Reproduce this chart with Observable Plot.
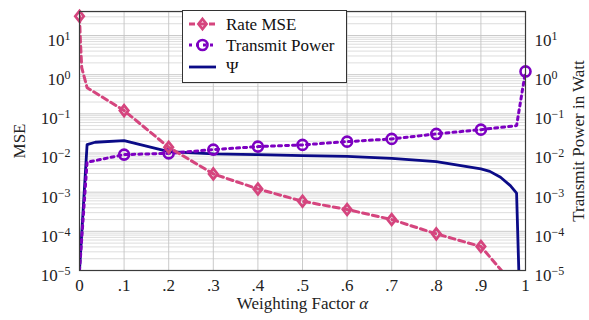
<!DOCTYPE html>
<html><head><meta charset="utf-8">
<script src="https://cdn.jsdelivr.net/npm/d3@7"></script>
<script src="https://cdn.jsdelivr.net/npm/@observablehq/plot@0.6"></script>
<style>
body{margin:0;background:#fff}
#wrap{position:relative;width:589px;height:320px;font-family:"Liberation Serif",serif}
svg text{font-family:"Liberation Serif",serif}
</style></head><body><div id="wrap"></div>
<script>
// ---- data ----
const rateAlpha = [0, 0.002, 0.005, 0.017, 0.1, 0.2, 0.3, 0.4, 0.5, 0.6, 0.7, 0.8, 0.9, 0.95];
const rateMSE   = [31, 7.4, 1.51, 0.466, 0.121, 0.014, 0.00293, 0.00121, 0.000586, 0.00036, 0.0002, 0.0000863, 0.000041, 0.0000089];

const powerAlpha = [0, 0.017, 0.1, 0.2, 0.3, 0.4, 0.5, 0.6, 0.7, 0.8, 0.9, 0.98, 1.0];
const power      = [1e-5, 0.0058, 0.0091, 0.0098, 0.0122, 0.01455, 0.0161, 0.0195, 0.0229, 0.0307, 0.0395, 0.05, 1.21];

const psiAlpha = [0, 0.017, 0.035, 0.1, 0.2, 0.3, 0.4, 0.5, 0.6, 0.7, 0.8, 0.9, 0.92, 0.944, 0.966, 0.98, 0.985];
const psi      = [1e-5, 0.0164, 0.0188, 0.0207, 0.01087, 0.0095, 0.0091, 0.0086, 0.0082, 0.00733, 0.006, 0.00393, 0.0034, 0.0024, 0.00147, 0.00094, 1e-5];

const xTicks = [0, 0.1, 0.2, 0.3, 0.4, 0.5, 0.6, 0.7, 0.8, 0.9, 1];
const xTickLabels = ["0", ".1", ".2", ".3", ".4", ".5", ".6", ".7", ".8", ".9", "1"];
const yExponents = [-5, -4, -3, -2, -1, 0, 1];

const seriesNames = ["Rate MSE", "Transmit Power", "\u03A8"];
const colors = {rate: "#d5457e", power: "#7d00c1", psi: "#0b0b87"};
const FONT = "Liberation Serif";

// ---- derived tables ----
const rateData = rateAlpha.map((a, i) => ({a, v: rateMSE[i]}));
const powerData = powerAlpha.map((a, i) => ({a, v: power[i]}));
const psiData = psiAlpha.map((a, i) => ({a, v: psi[i]}));
const onTenth = a => Math.abs(a * 10 - Math.round(a * 10)) < 1e-9;
const rateMarks = rateData.filter(d => onTenth(d.a) && d.a < 0.95);
const powerMarks = powerData.filter(d => onTenth(d.a) && d.a > 0);
const decades = yExponents.map(e => Math.pow(10, e));
const minor = [];
for (const e of yExponents) for (let k = 2; k <= 9; k++) { const v = k * Math.pow(10, e); if (v <= 41) minor.push(v); }

const diamond = {
  draw(ctx, size) {
    const r = Math.sqrt(size / Math.PI);
    const h = r * 1.2, w = r * 0.95;
    ctx.moveTo(0, -h); ctx.lineTo(w, 0); ctx.lineTo(0, h); ctx.lineTo(-w, 0); ctx.closePath();
  }
};

const chart = Plot.plot({
  width: 589, height: 320,
  marginLeft: 79, marginRight: 64, marginTop: 11, marginBottom: 50,
  style: {fontFamily: FONT, fontSize: "17px", background: "white", color: "#222"},
  x: {domain: [0, 1]},
  y: {type: "log", domain: [1e-5, 41]},
  marks: [
    Plot.gridY(minor, {stroke: "#d4d4d4", strokeOpacity: 1, strokeWidth: 0.8}),
    Plot.gridY(decades, {stroke: "#c4c4c4", strokeOpacity: 1, strokeWidth: 0.9}),
    Plot.gridX(xTicks.slice(1, -1), {stroke: "#c4c4c4", strokeOpacity: 1, strokeWidth: 0.9}),
    Plot.axisX(xTicks, {tickSize: 0, tickPadding: 8, fontSize: 17,
      tickFormat: d => xTickLabels[Math.round(d * 10)],
      label: "Weighting Factor \u03B1", labelAnchor: "center", labelArrow: "none", labelOffset: 38}),
    Plot.axisY(decades, {anchor: "left", tickSize: 0, tickPadding: 9, fontSize: 17, dy: 5,
      tickFormat: d => "10^" + Math.round(Math.log10(d)),
      label: "MSE", labelAnchor: "center", labelArrow: "none", labelOffset: 67}),
    Plot.axisY(decades, {anchor: "right", tickSize: 0, tickPadding: 9, fontSize: 17, dy: 5,
      tickFormat: d => "10^" + Math.round(Math.log10(d)),
      label: "Transmit Power in Watt", labelAnchor: "center", labelArrow: "none", labelOffset: 58}),
    Plot.line(psiData, {x: "a", y: "v", stroke: colors.psi, strokeWidth: 2.8, clip: true}),
    Plot.line(powerData, {x: "a", y: "v", stroke: colors.power, strokeWidth: 3, strokeDasharray: "3,4", clip: true}),
    Plot.dot(powerMarks, {x: "a", y: "v", r: 5, stroke: colors.power, strokeWidth: 2.6, fill: "none"}),
    Plot.line(rateData, {x: "a", y: "v", stroke: colors.rate, strokeWidth: 3, strokeDasharray: "6,4", clip: true}),
    Plot.dot(rateMarks, {x: "a", y: "v", r: 4.4, symbol: diamond, stroke: colors.rate, strokeWidth: 2.8, fill: "none"}),
    Plot.frame({stroke: "#3a3a3a", strokeWidth: 1.2})
  ]
});

const svg = d3.select(chart);
svg.selectAll('g[aria-label="y-axis tick label"] text').each(function () {
  const m = this.textContent.match(/^10\^(-?\d+)$/);
  if (m) {
    const s = d3.select(this);
    s.text("10");
    s.append("tspan").attr("dy", "-0.5em").attr("font-size", "12px").text(m[1].replace("-", "\u2212"));
  }
});
svg.selectAll('g[aria-label="x-axis label"] text').each(function () {
  const s = d3.select(this);
  s.text("Weighting Factor ");
  s.append("tspan").attr("font-style", "italic").text("\u03B1");
});
svg.selectAll("text").attr("font-family", FONT).attr("fill", "#222");

document.getElementById("wrap").appendChild(chart);

// ---- legend ----
const leg = d3.select("#wrap").append("svg")
  .style("position", "absolute").style("left", "182px").style("top", "10px")
  .attr("width", 166).attr("height", 74);
leg.append("rect").attr("x", 0.5).attr("y", 0.5).attr("width", 164).attr("height", 72)
  .attr("fill", "white").attr("stroke", "#333").attr("stroke-width", 1);
const rows = [
  {name: seriesNames[0], c: colors.rate, dash: "6,4", mark: "diamond", y: 14},
  {name: seriesNames[1], c: colors.power, dash: "3,4", mark: "circle", y: 35},
  {name: seriesNames[2], c: colors.psi, dash: null, mark: null, y: 57}
];
for (const r of rows) {
  const l = leg.append("line").attr("x1", 7).attr("x2", 34).attr("y1", r.y).attr("y2", r.y)
    .attr("stroke", r.c).attr("stroke-width", r.mark === "circle" ? 3 : 2.8);
  if (r.dash) l.attr("stroke-dasharray", r.dash);
  if (r.mark === "diamond") {
    leg.append("path").attr("d", `M20.5,${r.y - 5}L24.5,${r.y}L20.5,${r.y + 5}L16.5,${r.y}Z`)
      .attr("fill", "none").attr("stroke", r.c).attr("stroke-width", 2.8);
  } else if (r.mark === "circle") {
    leg.append("circle").attr("cx", 20.5).attr("cy", r.y).attr("r", 5)
      .attr("fill", "none").attr("stroke", r.c).attr("stroke-width", 2.6);
  }
  leg.append("text").attr("x", 44).attr("y", r.y).attr("dy", "0.33em")
    .attr("font-family", FONT).attr("font-size", 17).attr("fill", "#111").text(r.name);
}
</script></body></html>
